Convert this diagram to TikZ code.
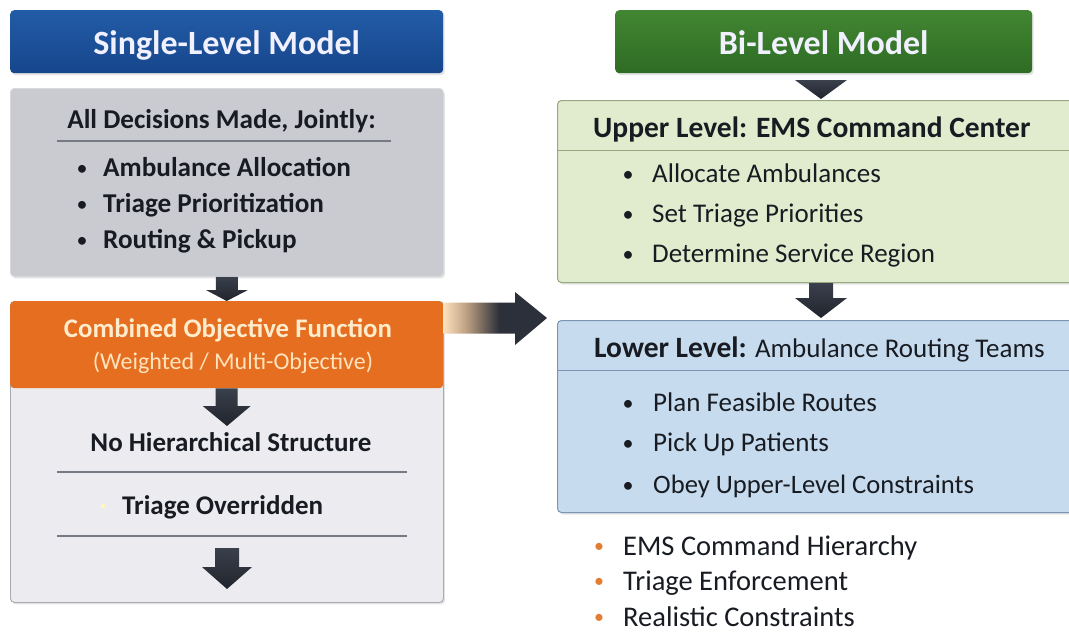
\documentclass[tikz,border=0pt]{standalone}
\usepackage{fontspec}
\setmainfont{Carlito}
\usetikzlibrary{calc,shadows}

\definecolor{titleblueT}{RGB}{34,92,166}
\definecolor{titleblueB}{RGB}{22,70,140}
\definecolor{titlegreenT}{RGB}{66,134,50}
\definecolor{titlegreenB}{RGB}{46,108,36}
\definecolor{grayfill}{RGB}{201,203,209}
\definecolor{grayedge}{RGB}{214,216,220}
\definecolor{orangefill}{RGB}{230,110,32}
\definecolor{orangetext}{RGB}{255,236,204}
\definecolor{lightfill}{RGB}{236,236,240}
\definecolor{lightedge}{RGB}{168,170,176}
\definecolor{upperfill}{RGB}{225,236,206}
\definecolor{upperedge}{RGB}{150,168,128}
\definecolor{lowerfill}{RGB}{199,219,238}
\definecolor{loweredge}{RGB}{122,150,180}
\definecolor{inkdark}{RGB}{24,28,34}
\definecolor{slateT}{RGB}{58,64,76}
\definecolor{slateB}{RGB}{32,36,44}
\definecolor{rulegray}{RGB}{118,122,132}
\definecolor{bulletorange}{RGB}{226,126,50}
\definecolor{peach}{RGB}{252,226,190}
\definecolor{tan}{RGB}{190,160,130}
\definecolor{slate}{RGB}{44,48,58}

% horizontal fade for the link arrow between the two columns
\pgfdeclarehorizontalshading{fadearrow}{100bp}{color(0bp)=(peach); color(25bp)=(peach); color(36bp)=(tan); color(52bp)=(slate); color(100bp)=(slate)}

% downward block arrow: start, tip, half shaft width, half head width, head length
\newcommand\dnblock[5]{%
  \shade[top color=slateT,bottom color=slateB] let \p1=(#1), \p2=(#2) in
    (\x1-#3,\y1) -- (\x1+#3,\y1) -- (\x1+#3,\y2+#5) -- (\x1+#4,\y2+#5) --
    (\x2,\y2) -- (\x1-#4,\y2+#5) -- (\x1-#3,\y2+#5) -- cycle;}

\tikzset{
  box/.style={rectangle, rounded corners=4pt, inner sep=0pt, anchor=north west},
  shadowed/.style={drop shadow={opacity=0.22, shadow xshift=1.5pt, shadow yshift=-2pt}},
  titlebox/.style={box, shadowed},
  bluetitle/.style={titlebox, top color=titleblueT, bottom color=titleblueB},
  greentitle/.style={titlebox, top color=titlegreenT, bottom color=titlegreenB},
  % text nodes are centred on the capital letters (text height = cap height)
  base/.style={inner sep=0pt, text=inkdark, text depth=0pt},
  titletext/.style={base, font=\fontsize{34}{36}\selectfont\bfseries,
    text=white!94!blue, text height=21.9pt},
  lbold/.style={base, font=\fontsize{27.2}{30}\selectfont\bfseries, text height=17.5pt},
  hbold/.style={base, font=\fontsize{29.5}{32}\selectfont\bfseries, text height=19pt},
  rtxt/.style={base, font=\fontsize{27}{30}\selectfont, text height=17.4pt},
  otxt/.style={base, font=\fontsize{28.5}{31}\selectfont, text height=18.4pt},
  smalltxt/.style={base, font=\fontsize{24}{27}\selectfont, text height=15.5pt},
  dot/.style={base, font=\fontsize{22}{24}\selectfont, text height=14.2pt, anchor=center},
  odot/.style={base, text=bulletorange, font=\fontsize{20}{24}\selectfont, text height=12.9pt},
  sep/.style={line width=1.1pt, draw=rulegray},
}

\begin{document}
\begin{tikzpicture}[x=1pt, y=-1pt]
\useasboundingbox (0,0) rectangle (1069,633);
\fill[white] (0,0) rectangle (1069,633);
\clip (0,0) rectangle (1069,633);

% ---------------- single-level column ----------------
\node[bluetitle, minimum width=433pt, minimum height=63pt] (sltitle) at (10,10) {};
\node[titletext] (sltext) at ($(sltitle.center)+(0,1.5)$) {Single-Level Model};

\node[box, shadowed, fill=grayfill, draw=grayedge, line width=0.8pt,
      minimum width=433pt, minimum height=188pt] (joint) at (10,88) {};
\node[lbold] (jhead) at (221.5,120) {All Decisions Made, Jointly:};
\draw[sep] (57,141) -- (391,141);
\node[dot] (jb1) at (82,168) {\textbullet};
\node[lbold, anchor=west] (j1) at (103,168) {Ambulance Allocation};
\node[dot] (jb2) at (82,204) {\textbullet};
\node[lbold, anchor=west] (j2) at (103,204) {Triage Prioritization};
\node[dot] (jb3) at (82,240) {\textbullet};
\node[lbold, anchor=west] (j3) at (103,240) {Routing \& Pickup};

\node[box, shadowed, fill=lightfill, draw=lightedge, line width=0.9pt,
      minimum width=433pt, minimum height=301pt] (flat) at (10,301) {};
\node[box, fill=orangefill, minimum width=433pt, minimum height=87pt] (comb) at (10,301) {};
\node[lbold, font=\fontsize{26.8}{30}\selectfont\bfseries, text=orangetext] (c1) at (228,329) {Combined Objective Function};
\node[smalltxt, text=orangetext!92!orange] (c2) at (233,362) {(Weighted / Multi-Objective)};

\node[lbold, font=\fontsize{27}{30}\selectfont\bfseries] (nohier) at (231,442.5) {No Hierarchical Structure};
\draw[sep] (57,472) -- (407,472);
\fill[yellow!30!white] (103,506) circle (2pt);
\node[lbold, font=\fontsize{27}{30}\selectfont\bfseries, anchor=west] (over) at (122,506) {Triage Overridden};
\draw[sep] (57,536) -- (407,536);
\coordinate (flatend) at (227,548);
\coordinate (flattip) at (227,589);

\dnblock{joint.south}{comb.north}{11pt}{21pt}{11pt}
\coordinate (combtip) at (227,426);
\dnblock{comb.south}{combtip}{11pt}{24pt}{20pt}
\dnblock{flatend}{flattip}{12pt}{25pt}{22pt}

% ---------------- bi-level column ----------------
\node[greentitle, minimum width=417pt, minimum height=63pt] (bltitle) at (615,10) {};
\node[titletext] (bltext) at ($(bltitle.center)+(0,1.5)$) {Bi-Level Model};

\node[box, shadowed, fill=upperfill, draw=upperedge, line width=1pt,
      minimum width=530pt, minimum height=182pt] (upper) at (557,100) {};
\node[hbold, anchor=west] (uhead) at (593,128) {Upper Level: EMS Command Center};
\draw[line width=1pt, draw=upperedge] (upper.west |- 0,150) -- (upper.east |- 0,150);
\node[dot] (ub1) at (628,174) {\textbullet};
\node[rtxt, anchor=west] (u1) at (652,174) {Allocate Ambulances};
\node[dot] (ub2) at (628,214) {\textbullet};
\node[rtxt, anchor=west] (u2) at (652,214) {Set Triage Priorities};
\node[dot] (ub3) at (628,254) {\textbullet};
\node[rtxt, anchor=west] (u3) at (652,254) {Determine Service Region};

\node[box, shadowed, fill=lowerfill, draw=loweredge, line width=1pt,
      minimum width=530pt, minimum height=192pt] (lower) at (557,320) {};
\node[rtxt, anchor=west] (lhead) at (594,349)
  {{\fontsize{29.5}{32}\selectfont\bfseries Lower Level:} Ambulance Routing Teams};
\draw[line width=1pt, draw=loweredge] (lower.west |- 0,370) -- (lower.east |- 0,370);
\node[dot] (lb1) at (628,403) {\textbullet};
\node[rtxt, anchor=west] (l1) at (653,403) {Plan Feasible Routes};
\node[dot] (lb2) at (628,443) {\textbullet};
\node[rtxt, anchor=west] (l2) at (653,443) {Pick Up Patients};
\node[dot] (lb3) at (628,485) {\textbullet};
\node[rtxt, font=\fontsize{26.6}{30}\selectfont, anchor=west] (l3) at (653,485) {Obey Upper-Level Constraints};

% triangle under the bi-level title
\coordinate (tritop) at (821,80);
\coordinate (tritip) at (821,99);
\shade[top color=slateT,bottom color=slateB] let \p1=(tritop), \p2=(tritip) in
  (\x1-26pt,\y1) -- (\x1+26pt,\y1) -- (\x2,\y2) -- cycle;

\coordinate (ustart) at (821,283);
\coordinate (utip) at (821,318);
\dnblock{ustart}{utip}{12pt}{26pt}{20pt}

% benefits list
\node[odot] (ob1) at (599,546) {\textbullet};
\node[otxt, anchor=west] (o1) at (623,546) {EMS Command Hierarchy};
\node[odot] (ob2) at (599,581) {\textbullet};
\node[otxt, anchor=west] (o2) at (623,581) {Triage Enforcement};
\node[odot] (ob3) at (599,617) {\textbullet};
\node[otxt, anchor=west] (o3) at (623,617) {Realistic Constraints};

% link arrow from the combined objective to the bi-level model
\coordinate (fs) at ($(comb.north east)+(0,17)$);
\coordinate (ft) at ($(lower.north west)+(-10,-2)$);
\shade[shading=fadearrow] let \p1=(fs), \p2=(ft) in
  (\x1,\y1+15.5pt) -- (\x2-32pt,\y1+15.5pt) -- (\x2-32pt,\y1+26pt) -- (\x2,\y2) --
  (\x2-32pt,\y1-27pt) -- (\x2-32pt,\y1-15.5pt) -- (\x1,\y1-15.5pt) -- cycle;
\end{tikzpicture}
\end{document}
